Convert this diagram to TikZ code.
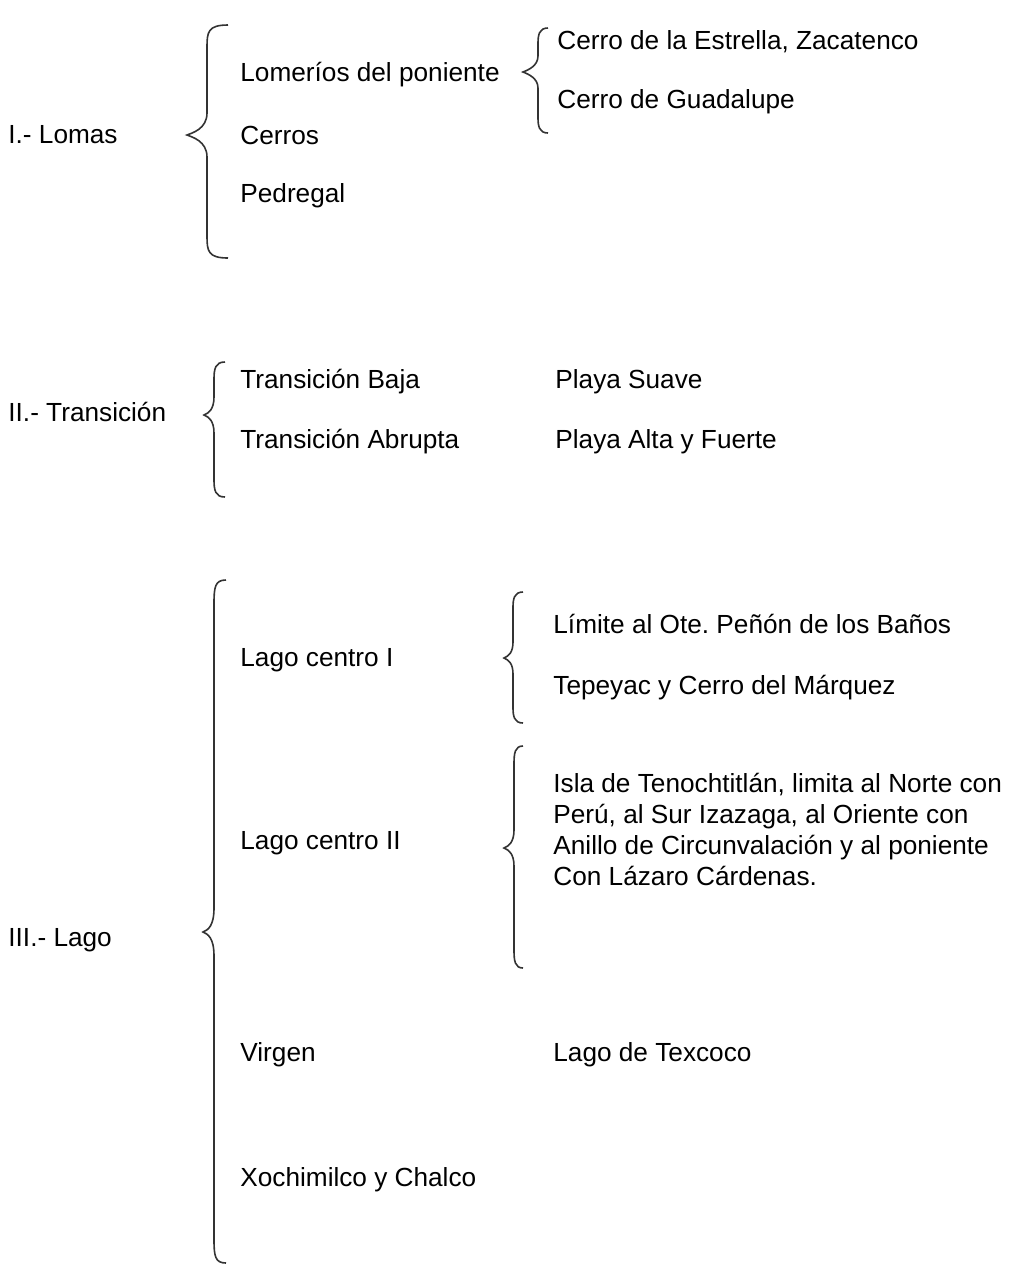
\documentclass[tikz,border=0pt]{standalone}
\usepackage{fontspec}
\setmainfont{Liberation Sans}
\usepackage{tikz}

% Word-like curly brace: #1 = x of the ends, #2 = x of the stem, #3 = x of the tip,
% #4 = top y, #5 = tip y, #6 = bottom y, #7 = curl length
\newcommand{\llave}[7]{%
  \draw[thick, black!80] (#1,#4) .. controls (#2+1,#4) and (#2,#4+7) .. (#2,#4+#7)
    -- (#2,#5-#7) .. controls (#2,#5-6) and (#3+5,#5-2) .. (#3,#5)
    .. controls (#3+5,#5+2) and (#2,#5+6) .. (#2,#5+#7)
    -- (#2,#6-#7) .. controls (#2,#6-7) and (#2+1,#6) .. (#1,#6);}

\begin{document}
\begin{tikzpicture}[x=0.5pt, y=-0.5pt,
    txt/.style={anchor=west, inner sep=0pt, font=\fontsize{13.1}{15.5}\selectfont}]

\useasboundingbox (0,0) rectangle (1012,1266);

% First group (Lomas)
\node[txt] (lomas) at (8,135) {I.- Lomas};
\llave{228}{207}{187}{25}{135}{258}{22}
\node[txt] (lomerios) at (240,75) {Lomeríos del poniente};
\node[txt] (cerros) at (240,135) {Cerros};
\node[txt] (pedregal) at (240,196) {Pedregal};

\llave{548}{538}{523}{28}{72}{133}{16}
\node[txt] (estrella) at (557,42) {Cerro de la Estrella, Zacatenco};
\node[txt] (guadalupe) at (557,102) {Cerro de Guadalupe};

% Second group (Transicion)
\node[txt] (transicion) at (8,412) {II.- Transición};
\llave{225}{214}{204}{362}{415}{497}{18}
\node[txt] (baja) at (240,382) {Transición Baja};
\node[txt] (abrupta) at (240,442) {Transición Abrupta};
\node[txt] (suave) at (555,382) {Playa Suave};
\node[txt] (fuerte) at (555,442) {Playa Alta y Fuerte};

% Third group (Lago)
\node[txt] (lago) at (8,940) {III.- Lago};
\llave{226}{214}{203}{580}{932}{1263}{24}
\node[txt] (centroI) at (240,660) {Lago centro I};
\node[txt] (centroII) at (240,843) {Lago centro II};
\node[txt] (virgen) at (240,1055) {Virgen};
\node[txt] (xochimilco) at (240,1180) {Xochimilco y Chalco};

\llave{523}{513}{504}{592}{658}{723}{16}
\node[txt] (penon) at (553,624) {Límite al Ote.\ Peñón de los Baños};
\node[txt] (tepeyac) at (553,688) {Tepeyac y Cerro del Márquez};

\llave{523}{514}{504}{746}{848}{968}{18}
\node[txt, align=left] (isla) at (553,829) {Isla de Tenochtitlán, limita al Norte con\\
  Perú, al Sur Izazaga, al Oriente con\\
  Anillo de Circunvalación y al poniente\\
  Con Lázaro Cárdenas.};

\node[txt] (texcoco) at (553,1055) {Lago de Texcoco};

\end{tikzpicture}
\end{document}
